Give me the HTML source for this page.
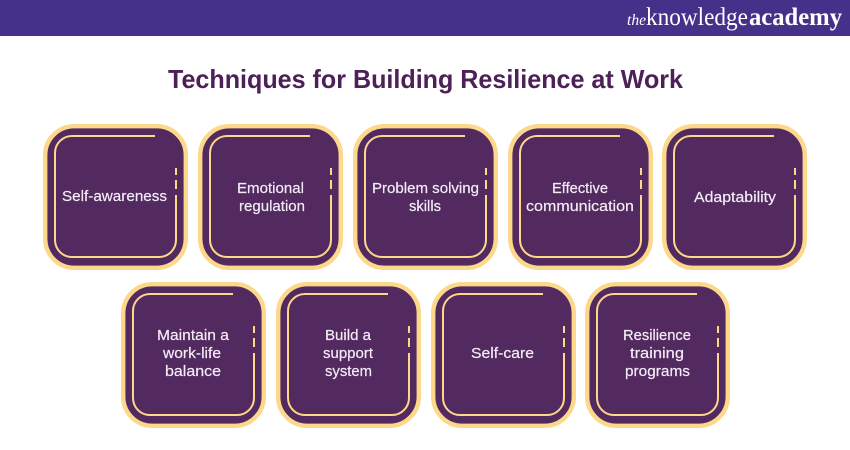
<!DOCTYPE html>
<html><head><meta charset="utf-8"><style>
html,body{margin:0;padding:0;background:#fff;width:850px;height:450px;overflow:hidden}
svg{display:block}
.t{font-family:"Liberation Sans",sans-serif;font-size:15px;fill:#f3ecf5;stroke:#f3ecf5;stroke-width:.2;text-anchor:middle}
</style></head><body>
<svg width="850" height="450" viewBox="0 0 850 450" xmlns="http://www.w3.org/2000/svg">
<defs><g id="c">
<rect x="2.2" y="2.2" width="140.6" height="141.6" rx="29" fill="#532a60" stroke="#fdd88a" stroke-width="4.4"/>
<path d="M112 12H29A17 17 0 0 0 12 29V116A17 17 0 0 0 29 133H116A17 17 0 0 0 133 116V71M133 65V56M133 51V44" fill="none" stroke="#fdd88a" stroke-width="2"/>
</g></defs>
<rect width="850" height="36" fill="#45308a"/>
<text x="627" y="25" font-family="Liberation Serif,serif" font-style="italic" font-size="16" fill="#fff" textLength="19" lengthAdjust="spacingAndGlyphs">the</text>
<text x="646" y="25" font-family="Liberation Serif,serif" font-size="25" fill="#fff" textLength="102" lengthAdjust="spacingAndGlyphs">knowledge</text>
<text x="749" y="25" font-family="Liberation Serif,serif" font-weight="bold" font-size="25" fill="#fff" textLength="93" lengthAdjust="spacingAndGlyphs">academy</text>
<text x="425.5" y="88" font-family="Liberation Sans,sans-serif" font-weight="bold" font-size="26" fill="#4d2058" text-anchor="middle" textLength="515" lengthAdjust="spacingAndGlyphs">Techniques for Building Resilience at Work</text>
<use href="#c" x="43" y="124"/><use href="#c" x="198" y="124"/><use href="#c" x="353" y="124"/><use href="#c" x="508" y="124"/><use href="#c" x="662" y="124"/>
<use href="#c" x="121" y="282"/><use href="#c" x="276" y="282"/><use href="#c" x="431" y="282"/><use href="#c" x="585" y="282"/>
<text class="t" x="114.5" y="201" textLength="105" lengthAdjust="spacingAndGlyphs">Self-awareness</text>
<text class="t" x="270.5" y="193" textLength="67" lengthAdjust="spacingAndGlyphs">Emotional</text>
<text class="t" x="272" y="211" textLength="66" lengthAdjust="spacingAndGlyphs">regulation</text>
<text class="t" x="425.5" y="193" textLength="107" lengthAdjust="spacingAndGlyphs">Problem solving</text>
<text class="t" x="425" y="211" textLength="32" lengthAdjust="spacingAndGlyphs">skills</text>
<text class="t" x="580" y="193" textLength="56" lengthAdjust="spacingAndGlyphs">Effective</text>
<text class="t" x="580" y="211" textLength="108" lengthAdjust="spacingAndGlyphs">communication</text>
<text class="t" x="735" y="202" textLength="82" lengthAdjust="spacingAndGlyphs">Adaptability</text>
<text class="t" x="193" y="340" textLength="72" lengthAdjust="spacingAndGlyphs">Maintain a</text>
<text class="t" x="192" y="358" textLength="58" lengthAdjust="spacingAndGlyphs">work-life</text>
<text class="t" x="193" y="376" textLength="56" lengthAdjust="spacingAndGlyphs">balance</text>
<text class="t" x="348" y="340" textLength="46" lengthAdjust="spacingAndGlyphs">Build a</text>
<text class="t" x="348" y="358" textLength="50" lengthAdjust="spacingAndGlyphs">support</text>
<text class="t" x="348.5" y="376" textLength="47" lengthAdjust="spacingAndGlyphs">system</text>
<text class="t" x="502.5" y="358" textLength="63" lengthAdjust="spacingAndGlyphs">Self-care</text>
<text class="t" x="657" y="340" textLength="68" lengthAdjust="spacingAndGlyphs">Resilience</text>
<text class="t" x="657" y="358" textLength="54" lengthAdjust="spacingAndGlyphs">training</text>
<text class="t" x="657.5" y="376" textLength="65" lengthAdjust="spacingAndGlyphs">programs</text>
</svg>
</body></html>
